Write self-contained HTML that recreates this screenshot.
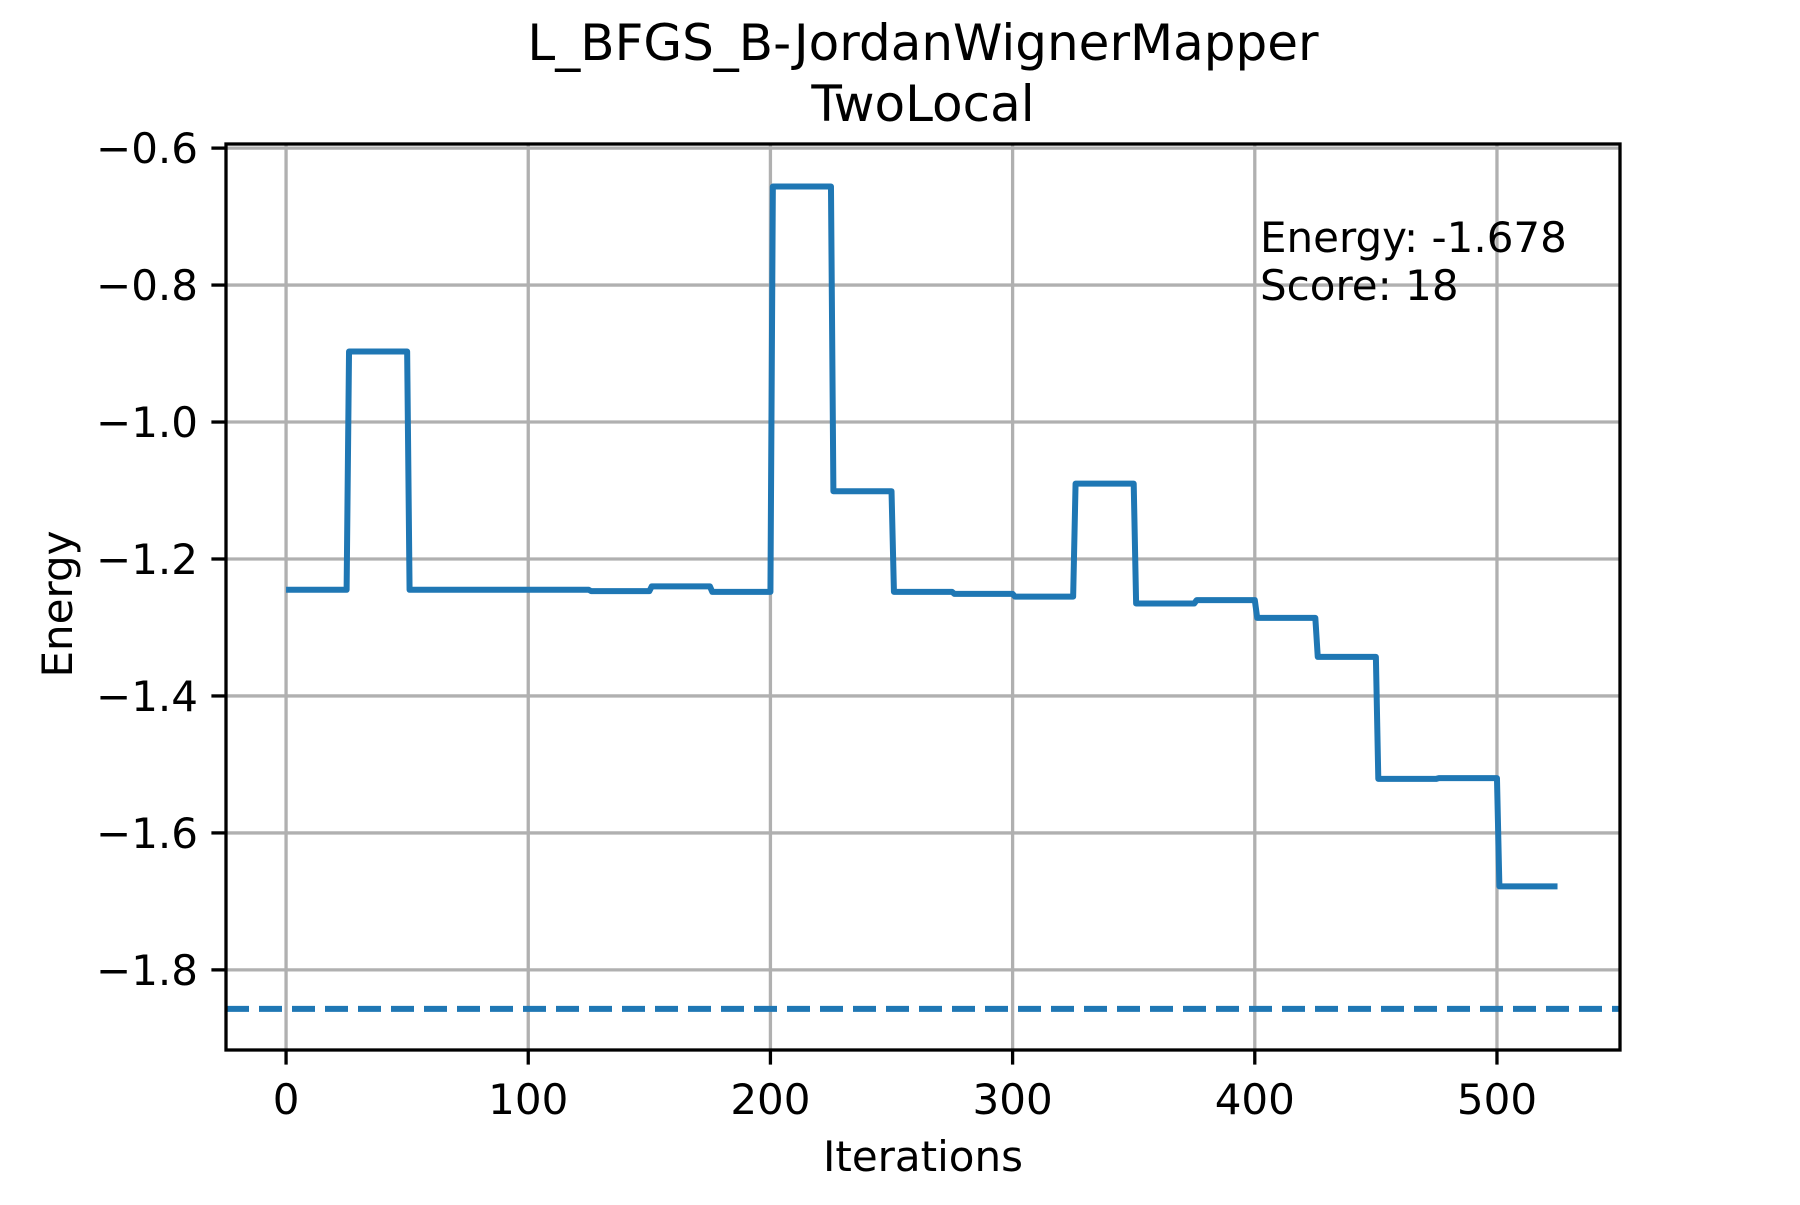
<!DOCTYPE html>
<html><head><meta charset="utf-8"><style>
body{margin:0;background:#fff}
svg text{font-family:"DejaVu Sans","Liberation Sans",sans-serif;fill:#000}
</style></head><body>
<svg id="chart" width="1800" height="1200" xmlns="http://www.w3.org/2000/svg">
<rect width="1800" height="1200" fill="#fff"/>
<g id="grid"></g>
<g id="series"></g>
<rect x="226" y="144" width="1394" height="906" fill="none" stroke="#000" stroke-width="3.3"/>
<g id="ticks"></g>
<text x="923" y="60" font-size="50" text-anchor="middle">L_BFGS_B-JordanWignerMapper</text>
<text x="923" y="121" font-size="50" text-anchor="middle">TwoLocal</text>
<text x="923" y="1171" font-size="42" text-anchor="middle">Iterations</text>
<text x="0" y="0" font-size="42" text-anchor="middle" transform="translate(72,604) rotate(-90)">Energy</text>
<text x="1260" y="252" font-size="42">Energy: -1.678</text>
<text x="1260" y="300" font-size="42">Score: 18</text>
</svg>
<script>
const segmentValues=[-1.245,-0.897,-1.245,-1.245,-1.245,-1.247,-1.240,-1.248,-0.656,-1.101,-1.248,-1.251,-1.255,-1.090,-1.265,-1.260,-1.286,-1.343,-1.521,-1.520,-1.678];
const segmentLength=25;
const lastIteration=525;
const referenceEnergy=-1.857;
const xTicks=[0,100,200,300,400,500];
const yTicks=[-0.6,-0.8,-1.0,-1.2,-1.4,-1.6,-1.8];
const yTickLabels=["\u22120.6","\u22120.8","\u22121.0","\u22121.2","\u22121.4","\u22121.6","\u22121.8"];

const L=226,R=1620,T=144,B=1050,xmin=-24.8,xmax=550.8,ymax=-0.594,ymin=-1.917;
const sx=v=>L+(v-xmin)/(xmax-xmin)*(R-L);
const sy=v=>T+(ymax-v)/(ymax-ymin)*(B-T);
const NS="http://www.w3.org/2000/svg";
function mk(tag,attrs,parent){const e=document.createElementNS(NS,tag);for(const k in attrs)e.setAttribute(k,attrs[k]);parent.appendChild(e);return e;}
const grid=document.getElementById('grid'),ticks=document.getElementById('ticks'),series=document.getElementById('series');
xTicks.forEach(t=>{
  const x=sx(t);
  const g=mk('line',{x1:x,x2:x,y1:T,y2:B,stroke:'#b0b0b0','stroke-width':3.3},grid);
  
  const tk=mk('line',{x1:x,x2:x,y1:B,y2:B+14.6,stroke:'#000','stroke-width':3.3},ticks);
  
  const tx=mk('text',{x:x,y:1114,'font-size':42,'text-anchor':'middle'},ticks);tx.textContent=t;
  
});
yTicks.forEach((t,i)=>{
  const y=sy(t);
  const g=mk('line',{x1:L,x2:R,y1:y,y2:y,stroke:'#b0b0b0','stroke-width':3.3},grid);
  
  const tk=mk('line',{x1:L-14.6,x2:L,y1:y,y2:y,stroke:'#000','stroke-width':3.3},ticks);
  
  const tx=mk('text',{x:198,y:y+15,'font-size':42,'text-anchor':'end'},ticks);tx.textContent=yTickLabels[i];
  
});
const pts=[];
for(let i=0;i<=lastIteration;i++){const k=Math.min(Math.max(0,Math.floor((i-1)/segmentLength)),segmentValues.length-1);pts.push(sx(i).toFixed(2)+','+sy(segmentValues[k]).toFixed(2));}
const line=mk('polyline',{points:pts.join(' '),fill:'none',stroke:'#1f77b4','stroke-width':6,'stroke-linejoin':'round'},series);

const ref=mk('line',{x1:L,x2:R,y1:sy(referenceEnergy),y2:sy(referenceEnergy),stroke:'#1f77b4','stroke-width':6,'stroke-dasharray':'23 10'},series);

</script>
</body></html>
